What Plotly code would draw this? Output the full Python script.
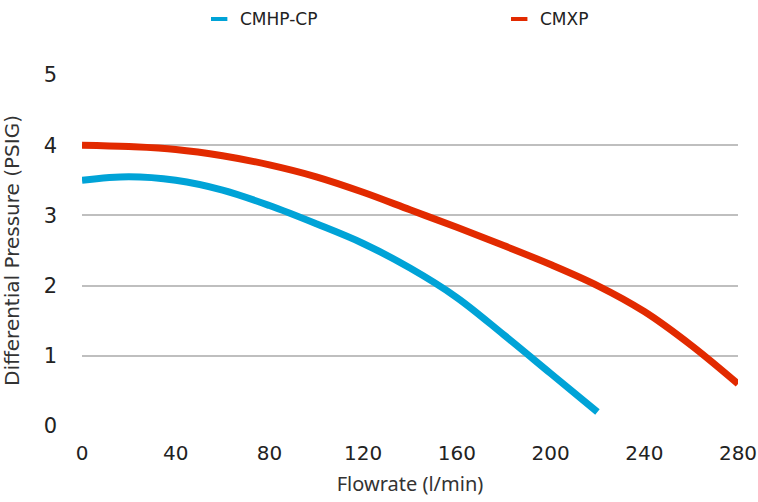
import plotly.graph_objects as go

flow_cmhp = [0, 20, 40, 60, 80, 100, 120, 140, 160, 180, 200, 220]
press_cmhp = [3.5, 3.55, 3.5, 3.36, 3.14, 2.88, 2.6, 2.25, 1.83, 1.3, 0.75, 0.2]

flow_cmxp = [0, 20, 40, 60, 80, 100, 120, 140, 160, 180, 200, 220, 240, 260, 280]
press_cmxp = [4.0, 3.98, 3.94, 3.85, 3.72, 3.55, 3.33, 3.08, 2.83, 2.57, 2.3, 2.0, 1.63, 1.15, 0.6]

series_names = ["CMHP-CP", "CMXP"]
series_colors = ["#00A3D7", "#E22A00"]

x_ticks = [0, 40, 80, 120, 160, 200, 240, 280]
y_ticks = [0, 1, 2, 3, 4, 5]

fig = go.Figure()
for name, color, xs, ys in zip(series_names, series_colors,
                               [flow_cmhp, flow_cmxp], [press_cmhp, press_cmxp]):
    fig.add_trace(go.Scatter(x=xs, y=ys, mode="lines", name=name, showlegend=False,
                             line=dict(color=color, width=7, shape="spline", smoothing=1.0)))

# custom legend (short swatches as in reference)
legend_x = [0.1966, 0.654]
legend_y = 1.1595
for name, color, lx in zip(series_names, series_colors, legend_x):
    fig.add_shape(type="line", xref="paper", yref="paper", x0=lx, x1=lx + 0.025,
                  y0=legend_y, y1=legend_y, line=dict(color=color, width=4))
    fig.add_annotation(xref="paper", yref="paper", x=lx + 0.041, y=legend_y,
                       xanchor="left", yanchor="middle", text=name, showarrow=False,
                       font=dict(family="DejaVu Sans", size=17, color="#222222"))

fig.update_layout(
    width=758, height=502,
    margin=dict(l=82, r=20, t=75, b=76, autoexpand=False),
    paper_bgcolor="white", plot_bgcolor="white",
    showlegend=False,
    font=dict(family="DejaVu Sans", color="#222222"),
    xaxis=dict(range=[0, 280], tickvals=x_ticks, showgrid=False, zeroline=False, automargin=False,
               showline=False, ticks="", tickfont=dict(size=20, family="DejaVu Sans"),
               ticklabelstandoff=13,
               title=dict(text="Flowrate (l/min)", standoff=12,
                          font=dict(family="Noto Sans", size=20, color="#333333"))),
    yaxis=dict(range=[0, 5], tickvals=y_ticks, showgrid=True, gridcolor="#BFBFBF", gridwidth=2,
               zeroline=False, showline=False, ticks="", automargin=False,
               tickfont=dict(size=21, family="DejaVu Sans"),
               ticklabelstandoff=24,
               title=dict(text="Differential Pressure (PSIG)", standoff=18,
                          font=dict(family="DejaVu Sans", size=20, color="#333333"))),
)

fig.write_html("out.html", config={"displayModeBar": False},
               post_script="document.body.style.margin='0px';")
